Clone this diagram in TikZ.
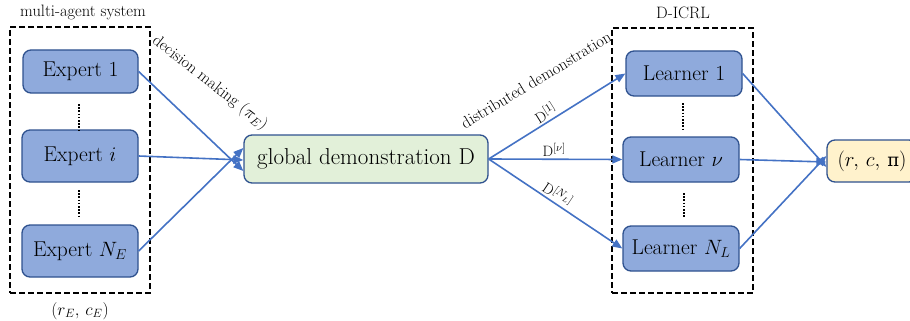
\documentclass[tikz,border=0pt]{standalone}
\usepackage{fontspec}
\newfontfamily\dvs{DejaVu Serif}
\usetikzlibrary{arrows.meta}
\definecolor{boxfill}{HTML}{8FAADC}
\definecolor{boxdraw}{HTML}{2F528F}
\definecolor{arrowblue}{HTML}{4472C4}
\definecolor{greenfill}{HTML}{E2F0D9}
\definecolor{yellowfill}{HTML}{FFF2CC}
\begin{document}
\begin{tikzpicture}[x=1pt,y=-1pt,
  agent/.style={draw=boxdraw, fill=boxfill, line width=1.3pt, rounded corners=8pt,
    minimum width=116pt, minimum height=45pt, inner sep=0pt,
    font=\fontsize{21.5}{25}\selectfont},
  globalbox/.style={draw=boxdraw, fill=greenfill, line width=1.3pt, rounded corners=8pt,
    minimum width=244pt, minimum height=48pt, inner sep=0pt,
    font=\fontsize{23}{26}\selectfont},
  outbox/.style={draw=boxdraw, fill=yellowfill, line width=1.3pt, rounded corners=8pt,
    minimum width=90pt, minimum height=42pt, inner sep=0pt,
    font=\fontsize{21.5}{25}\selectfont},
  groupbox/.style={draw=black, line width=1.5pt, dash pattern=on 6pt off 3pt,
    inner sep=0pt},
  smalltext/.style={font=\fontsize{16.5}{20}\selectfont, inner sep=0pt},
  dlabel/.style={font=\fontsize{15}{18}\selectfont, inner sep=2pt},
  arr/.style={draw=arrowblue, line width=1.6pt,
    -{Triangle[length=10pt,width=8pt]}},
  dotline/.style={line width=2.4pt, dash pattern=on 1.6pt off 1.6pt}
]
\useasboundingbox (0,0) rectangle (910,321);

% group boxes
\node[groupbox, minimum width=140pt, minimum height=266pt] (mas) at (80,160) {};
\node[groupbox, minimum width=141pt, minimum height=265pt] (dicrl) at (682.5,160.5) {};
\node[smalltext] (maslabel) at (83,12) {multi-agent system};
\node[smalltext] (dicrllabel) at (683,13) {D-ICRL};
\node[smalltext] (rece) at (80,311) {$(r_E,\, c_E)$};

% experts
\node[agent, minimum height=43pt, minimum width=115pt] (e1) at (80.5,71.5) {Expert 1};
\node[agent, minimum height=52pt] (ei) at (80,156) {Expert $i$};
\node[agent, minimum height=52pt] (en) at (80,251) {Expert $N_E$};

% dots
\draw[dotline] (79,104) -- (79,130);
\draw[dotline] (79,190) -- (79,217);
\draw[dotline] (683,103) -- (683,130);
\draw[dotline] (684,193) -- (684,218);

% global demonstration
\node[globalbox] (g) at (366,159) {global demonstration D};

% learners
\node[agent] (l1) at (684,73.5) {Learner 1};
\node[agent] (lv) at (681,159.5) {Learner $\nu$};
\node[agent] (ln) at (681,248.5) {Learner $N_L$};

% output
\node[outbox] (out) at (872,161) {$(r,\, c,\, \mbox{\dvs\fontsize{18}{24}\selectfont π})$};

% coordinates for arrow ends
\coordinate (g1) at ([yshift=-12pt]g.west);
\coordinate (g2) at ([yshift=-1pt]g.west);
\coordinate (g3) at ([yshift=11pt]g.west);
\coordinate (o1) at ([yshift=-6pt]out.west);
\coordinate (o2) at ([yshift=-1pt]out.west);
\coordinate (o3) at ([yshift=5pt]out.west);

% expert arrows
\draw[arr] (e1.east) -- (g1);
\draw[arr] (ei.east) -- (g2);
\draw[arr] (en.east) -- (g3);

\node[smalltext, rotate=-38] (dm) at (210,83) {decision making ($\pi_E$)};

% distribution arrows
\draw[arr] (g.east) -- node[dlabel, sloped, above, pos=0.45] (d1) {D$^{[1]}$} (l1.west);
\draw[arr] (g.east) -- node[dlabel, above, pos=0.49] (dv) {D$^{[\nu]}$} (lv.west);
\draw[arr] (g.east) -- node[dlabel, sloped, above, pos=0.48] (dn) {D$^{[N_L]}$} (ln.west);

\node[smalltext, rotate=31] (dd) at (536,80) {distributed demonstration};

% learner arrows
\draw[arr] (l1.east) -- (o1);
\draw[arr] (lv.east) -- (o2);
\draw[arr] (ln.east) -- (o3);
\end{tikzpicture}
\end{document}
